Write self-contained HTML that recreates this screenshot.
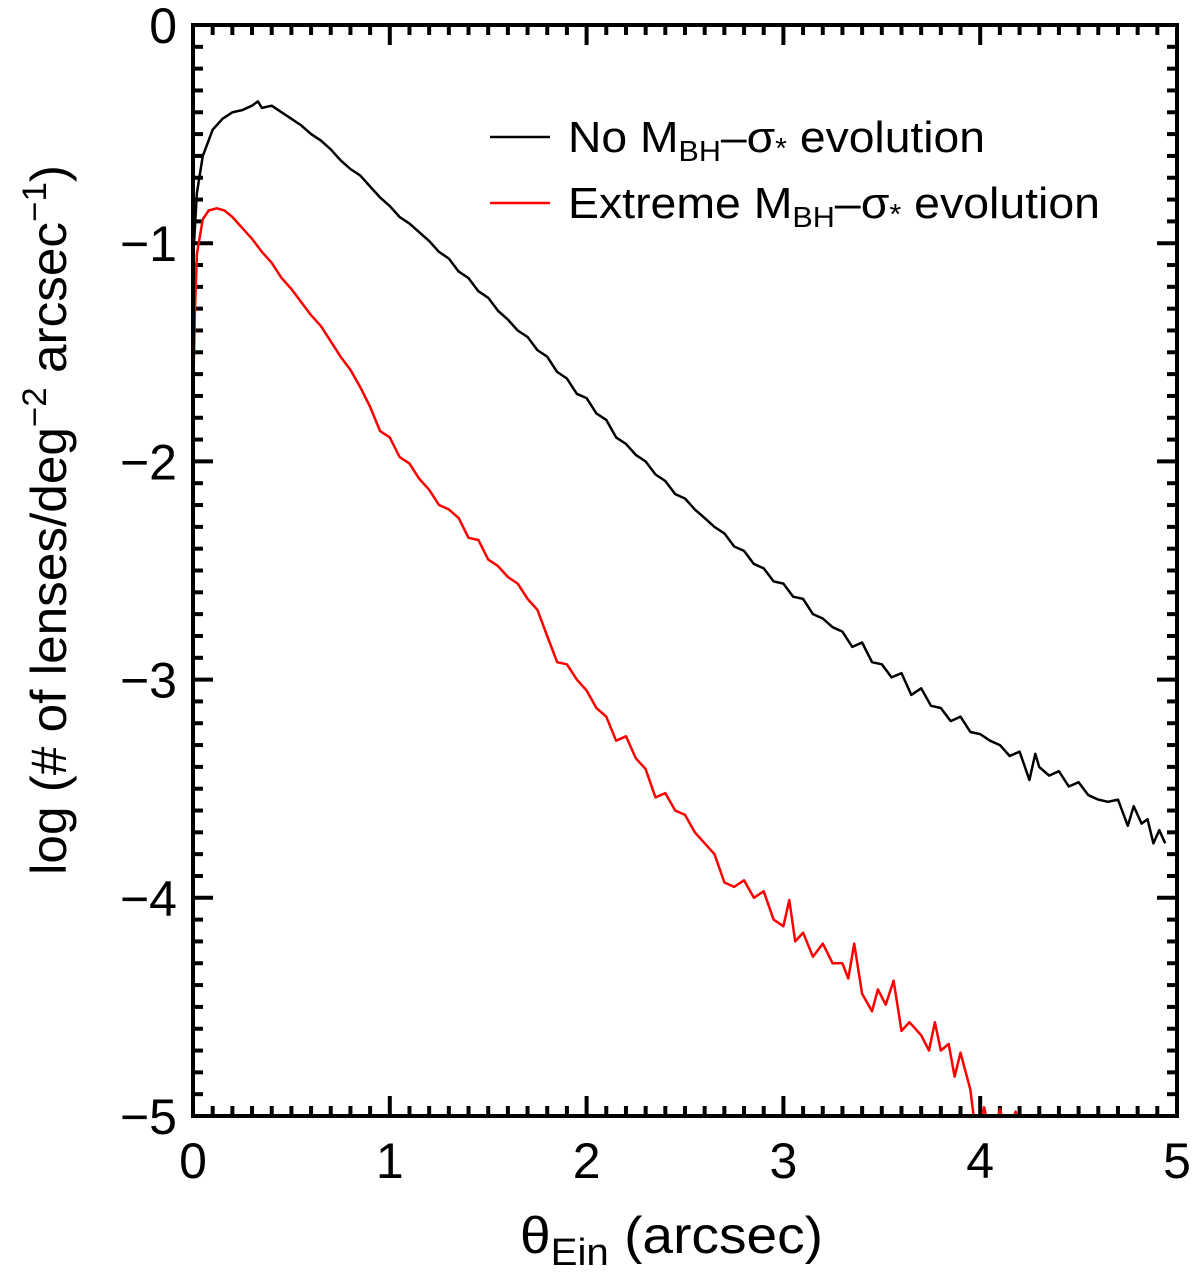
<!DOCTYPE html>
<html><head><meta charset="utf-8"><style>
html,body{margin:0;padding:0;background:#fff;}
svg{display:block;font-family:"Liberation Sans",Arial,sans-serif;}
</style></head><body>
<svg id="chart" width="1200" height="1281" viewBox="0 0 1200 1281">
<defs><clipPath id="plotclip"><rect x="193" y="25" width="984" height="1091"/></clipPath></defs>
<g id="ticks"></g>
<g id="labels"></g>
<g id="series" clip-path="url(#plotclip)"></g>
<rect x="193" y="25" width="984" height="1091" fill="none" stroke="#000" stroke-width="4"/>
<g>
<line x1="490" y1="137" x2="550" y2="137" stroke="#000" stroke-width="2.5"/>
<text x="568" y="152" font-size="44" textLength="417" lengthAdjust="spacingAndGlyphs">No M<tspan font-size="29" dy="9">BH</tspan><tspan dy="-9">–σ</tspan><tspan font-size="29" dy="6">*</tspan><tspan dy="-6"> evolution</tspan></text>
<line x1="490" y1="203" x2="550" y2="203" stroke="#f00" stroke-width="2.5"/>
<text x="568" y="218" font-size="44" textLength="532" lengthAdjust="spacingAndGlyphs">Extreme M<tspan font-size="29" dy="9">BH</tspan><tspan dy="-9">–σ</tspan><tspan font-size="29" dy="6">*</tspan><tspan dy="-6"> evolution</tspan></text>
</g>
<text x="520" y="1253" font-size="52" textLength="303" lengthAdjust="spacingAndGlyphs">θ<tspan font-size="38" dy="12">Ein</tspan><tspan dy="-12"> (arcsec)</tspan></text>
<text transform="translate(66,520) rotate(-90)" font-size="50" text-anchor="middle" textLength="710" lengthAdjust="spacingAndGlyphs">log (# of lenses/deg<tspan font-size="34" dy="-20">−2</tspan><tspan dy="20"> arcsec</tspan><tspan font-size="34" dy="-20">−1</tspan><tspan dy="20">)</tspan></text>
</svg>
<script>
const xTickLabels = ["0","1","2","3","4","5"];
const yTickLabels = ["0","−1","−2","−3","−4","−5"];
const xTickValues = [0,1,2,3,4,5];
const yTickValues = [0,-1,-2,-3,-4,-5];
const noEvoX = [0.005,0.02,0.05,0.10,0.15,0.20,0.25,0.30,0.33,0.35,0.40,0.45,0.50,0.55,0.60,0.65,0.70,0.75,0.80,0.85,0.90,0.95,1.00,1.05,1.10,1.15,1.20,1.25,1.30,1.35,1.40,1.45,1.50,1.55,1.60,1.65,1.70,1.75,1.80,1.85,1.90,1.95,2.00,2.05,2.10,2.15,2.20,2.25,2.30,2.35,2.40,2.45,2.50,2.55,2.60,2.65,2.70,2.75,2.80,2.85,2.90,2.95,3.00,3.05,3.10,3.15,3.20,3.25,3.30,3.35,3.40,3.45,3.50,3.55,3.60,3.65,3.70,3.75,3.80,3.85,3.90,3.95,4.00,4.05,4.10,4.15,4.20,4.25,4.28,4.30,4.35,4.40,4.45,4.50,4.55,4.60,4.65,4.70,4.75,4.78,4.82,4.85,4.88,4.91,4.94];
const noEvoY = [-1.00,-0.77,-0.60,-0.48,-0.43,-0.40,-0.39,-0.37,-0.35,-0.38,-0.37,-0.40,-0.43,-0.46,-0.50,-0.53,-0.57,-0.62,-0.66,-0.69,-0.74,-0.79,-0.83,-0.88,-0.91,-0.95,-0.99,-1.04,-1.07,-1.13,-1.16,-1.22,-1.25,-1.31,-1.35,-1.40,-1.43,-1.49,-1.52,-1.59,-1.62,-1.69,-1.71,-1.78,-1.81,-1.89,-1.92,-1.97,-2.00,-2.06,-2.09,-2.15,-2.17,-2.22,-2.26,-2.30,-2.33,-2.39,-2.41,-2.47,-2.49,-2.55,-2.56,-2.62,-2.63,-2.70,-2.72,-2.76,-2.78,-2.85,-2.83,-2.92,-2.93,-2.99,-2.97,-3.07,-3.04,-3.12,-3.13,-3.19,-3.17,-3.24,-3.25,-3.28,-3.30,-3.35,-3.33,-3.46,-3.34,-3.40,-3.44,-3.42,-3.49,-3.47,-3.53,-3.55,-3.56,-3.55,-3.67,-3.58,-3.66,-3.64,-3.75,-3.69,-3.75];
const extremeX = [0.00,0.01,0.02,0.05,0.08,0.12,0.16,0.20,0.25,0.30,0.35,0.40,0.45,0.50,0.55,0.60,0.65,0.70,0.75,0.80,0.85,0.90,0.95,1.00,1.05,1.10,1.15,1.20,1.25,1.30,1.35,1.40,1.45,1.50,1.55,1.60,1.65,1.70,1.75,1.80,1.85,1.90,1.95,2.00,2.05,2.10,2.15,2.20,2.25,2.30,2.35,2.40,2.45,2.50,2.55,2.60,2.65,2.70,2.75,2.80,2.85,2.90,2.95,3.00,3.03,3.06,3.10,3.15,3.20,3.25,3.30,3.33,3.36,3.40,3.45,3.48,3.52,3.56,3.60,3.64,3.70,3.74,3.77,3.80,3.84,3.87,3.90,3.95,3.98,4.02,4.06,4.10,4.14,4.18,4.22,4.26,4.28];
const extremeY = [-1.72,-1.30,-1.05,-0.89,-0.85,-0.84,-0.85,-0.88,-0.93,-0.98,-1.04,-1.09,-1.16,-1.21,-1.27,-1.33,-1.38,-1.45,-1.52,-1.58,-1.66,-1.75,-1.86,-1.89,-1.98,-2.01,-2.08,-2.13,-2.20,-2.22,-2.26,-2.35,-2.36,-2.45,-2.48,-2.53,-2.56,-2.63,-2.68,-2.80,-2.92,-2.93,-3.00,-3.05,-3.13,-3.17,-3.28,-3.26,-3.36,-3.41,-3.54,-3.52,-3.60,-3.62,-3.70,-3.75,-3.80,-3.93,-3.95,-3.92,-4.00,-3.97,-4.10,-4.13,-4.01,-4.20,-4.16,-4.27,-4.21,-4.30,-4.30,-4.37,-4.21,-4.44,-4.52,-4.42,-4.49,-4.38,-4.61,-4.57,-4.63,-4.70,-4.57,-4.70,-4.67,-4.82,-4.71,-4.88,-5.10,-4.96,-5.12,-4.97,-5.10,-4.98,-5.12,-5.00,-5.20];

const L=193,R=1177,T=25,B=1116;
const xMin=0,xMax=5,yMin=-5,yMax=0;
function sx(v){return L+(v-xMin)/(xMax-xMin)*(R-L);}
function sy(v){return T+(yMax-v)/(yMax-yMin)*(B-T);}
const NS="http://www.w3.org/2000/svg";
const tg=document.getElementById('ticks'), lg=document.getElementById('labels'), sg=document.getElementById('series');
function line(g,x1,y1,x2,y2,name){
  const l=document.createElementNS(NS,'line');
  l.setAttribute('x1',x1);l.setAttribute('y1',y1);l.setAttribute('x2',x2);l.setAttribute('y2',y2);
  l.setAttribute('stroke','#000');l.setAttribute('stroke-width','4');
  
  
  g.appendChild(l);
}
for(let i=0;i<=50;i++){
  const v=xMin+i*0.1, major=(i%10===0), len=major?20:10, x=sx(v);
  line(tg,x,B,x,B-len,major?'x-major-tick':'x-minor-tick');
  line(tg,x,T,x,T+len,major?'x-top-major-tick':'x-top-minor-tick');
}
for(let i=0;i<=50;i++){
  const v=yMax-i*0.1, major=(i%10===0), len=major?20:10, y=sy(v);
  line(tg,L,y,L+len,y,major?'y-major-tick':'y-minor-tick');
  line(tg,R,y,R-len,y,major?'y-right-major-tick':'y-right-minor-tick');
}
xTickValues.forEach((v,i)=>{
  const t=document.createElementNS(NS,'text');
  t.setAttribute('x',sx(v));t.setAttribute('y',1178);t.setAttribute('font-size','50');t.setAttribute('text-anchor','middle');
  t.textContent=xTickLabels[i];
  
  
  lg.appendChild(t);
});
yTickValues.forEach((v,i)=>{
  const t=document.createElementNS(NS,'text');
  t.setAttribute('x',177);t.setAttribute('y',sy(v)+18);t.setAttribute('font-size','50');t.setAttribute('text-anchor','end');
  t.textContent=yTickLabels[i];
  
  
  lg.appendChild(t);
});
function path(xs,ys,color,name){
  const p=document.createElementNS(NS,'path');
  let d='';
  xs.forEach((x,i)=>{d+=(i?'L':'M')+sx(x).toFixed(1)+','+sy(ys[i]).toFixed(1);});
  p.setAttribute('d',d);p.setAttribute('fill','none');p.setAttribute('stroke',color);
  p.setAttribute('stroke-width','2.5');p.setAttribute('stroke-linejoin','round');
  
  
  sg.appendChild(p);
}
path(noEvoX,noEvoY,'#000','no-evolution-line');
path(extremeX,extremeY,'#f00','extreme-evolution-line');
</script>
</body></html>
